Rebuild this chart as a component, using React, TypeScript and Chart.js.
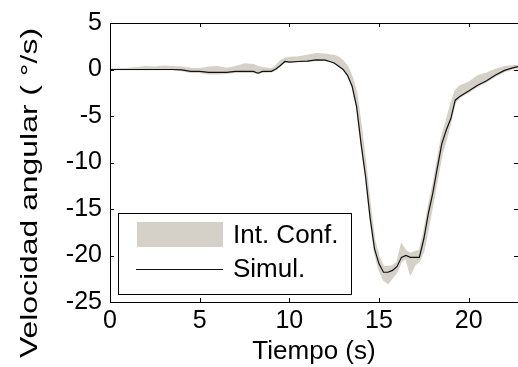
import React, { useEffect, useRef } from "react";
import { Chart, registerables } from "chart.js";

Chart.register(...registerables);

const time = [0, 0.5, 1, 1.5, 2, 2.5, 3, 3.5, 4, 4.5, 5, 5.5, 6, 6.5, 7, 7.5, 8, 8.25, 8.5, 9, 9.25, 9.5, 9.75, 10, 10.5, 11, 11.5, 12, 12.25, 12.5, 12.75, 13, 13.25, 13.5, 13.75, 14, 14.25, 14.5, 14.75, 15, 15.25, 15.5, 15.75, 16, 16.25, 16.5, 16.75, 17, 17.25, 17.5, 17.75, 18, 18.25, 18.5, 18.75, 19, 19.25, 19.5, 20, 20.5, 21, 21.5, 22, 22.5, 22.75];
const simul = [0, 0, 0, 0, 0, 0, 0, 0, -0.05, -0.2, -0.2, -0.3, -0.3, -0.3, -0.2, -0.2, -0.2, -0.4, -0.2, -0.2, 0.05, 0.43, 0.86, 0.8, 0.86, 0.9, 1.04, 1.0, 0.86, 0.7, 0.35, 0.0, -0.65, -1.8, -4.0, -8.0, -11.5, -15.9, -19.3, -20.9, -21.8, -21.8, -21.6, -21.2, -20.2, -20.0, -20.2, -20.2, -20.2, -18.2, -15.5, -13.3, -10.6, -8.0, -6.5, -5.3, -3.3, -2.9, -2.3, -1.7, -1.2, -0.6, -0.1, 0.2, 0.3];
const confUpper = [0, 0.05, 0.1, 0.2, 0.3, 0.25, 0.35, 0.3, 0.25, 0.1, 0.05, 0.25, 0.3, 0.1, 0.3, 0.6, 0.5, 0.3, 0.2, 0.05, 0.4, 0.9, 1.2, 1.3, 1.35, 1.5, 1.7, 1.65, 1.55, 1.5, 1.3, 0.9, 0.3, -0.8, -2.5, -6.0, -10.0, -14.5, -18.3, -20.2, -21.2, -21.2, -21.1, -20.8, -18.8, -19.5, -19.8, -19.6, -19.5, -17.5, -14.8, -12.5, -9.8, -7.2, -5.5, -3.8, -2.3, -1.8, -1.4, -0.7, -0.4, 0.0, 0.3, 0.4, 0.4];
const confLower = [0, 0, 0, 0, 0, 0, 0, 0, -0.1, -0.3, -0.3, -0.45, -0.45, -0.4, -0.3, -0.3, -0.3, -0.45, -0.3, -0.25, 0.0, 0.4, 0.8, 0.8, 0.85, 0.9, 1.0, 1.0, 0.85, 0.7, 0.4, 0.05, -0.6, -1.8, -4.0, -8.0, -11.5, -15.9, -19.6, -21.5, -22.6, -23.0, -22.4, -21.8, -20.6, -20.3, -22.0, -21.0, -20.6, -19.5, -17.0, -14.5, -11.8, -9.2, -7.5, -5.6, -3.5, -3.0, -2.4, -1.8, -1.3, -0.7, -0.2, 0.1, 0.2];

const xTicks = [0, 5, 10, 15, 20];
const yTicks = [-25, -20, -15, -10, -5, 0, 5];
const xMin = 0;
const xMax = 22.75;
const yMin = -25;
const yMax = 5;
const xTitle = "Tiempo (s)";
const yTitle = "Velocidad angular ( \u00B0/s)";
const legendLabels = ["Int. Conf.", "Simul."];

const BAND = "#d5d1c9";
const LINE = "#111111";
const FONT = "'Liberation Sans', Arial, sans-serif";

const framePlugin = {
  id: "frame",
  afterDraw(chart: any) {
    const { ctx, chartArea: a, scales } = chart;
    const xs = scales.x;
    const ys = scales.y;
    ctx.save();
    ctx.strokeStyle = "#000";
    ctx.lineWidth = 1;
    ctx.beginPath();
    ctx.moveTo(a.left + 0.5, a.top + 0.5);
    ctx.lineTo(a.right + 0.5, a.top + 0.5);
    ctx.lineTo(a.right + 0.5, a.bottom + 0.5);
    ctx.lineTo(a.left + 0.5, a.bottom + 0.5);
    ctx.closePath();
    ctx.stroke();
    const tl = 4;
    ctx.beginPath();
    xs.ticks.forEach((t: any) => {
      const px = Math.round(xs.getPixelForValue(t.value)) + 0.5;
      ctx.moveTo(px, a.bottom);
      ctx.lineTo(px, a.bottom - tl);
      ctx.moveTo(px, a.top);
      ctx.lineTo(px, a.top + tl);
    });
    ys.ticks.forEach((t: any) => {
      const py = Math.round(ys.getPixelForValue(t.value)) + 0.5;
      ctx.moveTo(a.left, py);
      ctx.lineTo(a.left + tl, py);
      ctx.moveTo(a.right, py);
      ctx.lineTo(a.right - tl, py);
    });
    ctx.stroke();

    // legend
    const lx = a.left + 8;
    const ly = a.top + 190;
    const lw = 233;
    const lh = 81;
    ctx.fillStyle = "#fff";
    ctx.fillRect(lx, ly, lw, lh);
    ctx.strokeStyle = "#000";
    ctx.strokeRect(lx + 0.5, ly + 0.5, lw, lh);
    ctx.fillStyle = BAND;
    ctx.fillRect(lx + 19, ly + 9, 86, 25);
    ctx.strokeStyle = LINE;
    ctx.lineWidth = 1.2;
    ctx.beginPath();
    ctx.moveTo(lx + 18, ly + 56.5);
    ctx.lineTo(lx + 105, ly + 56.5);
    ctx.stroke();
    ctx.fillStyle = "#000";
    ctx.font = `26px ${FONT}`;
    ctx.textAlign = "left";
    ctx.textBaseline = "middle";
    ctx.fillText(legendLabels[0], lx + 115, ly + 23);
    ctx.fillText(legendLabels[1], lx + 115, ly + 57);

    // y title
    ctx.save();
    ctx.translate(30, 193);
    ctx.rotate(-Math.PI / 2);
    ctx.font = `24px ${FONT}`;
    const w = ctx.measureText(yTitle).width;
    ctx.scale(330 / w, 1);
    ctx.textAlign = "center";
    ctx.textBaseline = "middle";
    ctx.fillText(yTitle, 0, 0);
    ctx.restore();

    ctx.restore();
  },
};

export default function App() {
  const ref = useRef<HTMLCanvasElement>(null);
  useEffect(() => {
    if (!ref.current) return;
    const pts = (ys: number[]) => time.map((t, i) => ({ x: t, y: ys[i] }));
    const chart = new Chart(ref.current, {
      type: "line",
      data: {
        datasets: [
          {
            label: "lower",
            data: pts(confLower),
            borderColor: BAND,
            borderWidth: 1.5,
            pointRadius: 0,
            fill: false,
            order: 2,
          },
          {
            label: legendLabels[0],
            data: pts(confUpper),
            borderColor: BAND,
            backgroundColor: BAND,
            borderWidth: 1.5,
            pointRadius: 0,
            fill: "-1",
            order: 1,
          },
          {
            label: legendLabels[1],
            data: pts(simul),
            borderColor: LINE,
            borderWidth: 1.2,
            pointRadius: 0,
            fill: false,
            order: 0,
          },
        ],
      },
      options: {
        responsive: false,
        animation: false,
        devicePixelRatio: 1,
        layout: { padding: { top: 23, right: 0, left: 0, bottom: 0 } },
        plugins: { legend: { display: false }, tooltip: { enabled: false } },
        scales: {
          x: {
            type: "linear",
            min: xMin,
            max: xMax,
            grid: { display: false, drawTicks: false },
            border: { display: false },
            afterBuildTicks: (s: any) => {
              s.ticks = xTicks.map((v) => ({ value: v }));
            },
            ticks: {
              autoSkip: false,
              color: "#000",
              font: { family: FONT, size: 25 },
              padding: 4,
              maxRotation: 0,
            },
            title: {
              display: true,
              text: xTitle,
              color: "#000",
              font: { family: FONT, size: 26 },
              padding: { top: 0, bottom: 0 },
            },
            afterFit: (s: any) => {
              s.height = 65;
            },
          },
          y: {
            type: "linear",
            min: yMin,
            max: yMax,
            grid: { display: false, drawTicks: false },
            border: { display: false },
            afterBuildTicks: (s: any) => {
              s.ticks = yTicks.map((v) => ({ value: v }));
            },
            ticks: {
              autoSkip: false,
              color: "#000",
              font: { family: FONT, size: 25 },
              padding: 8,
            },
            afterFit: (s: any) => {
              s.width = 110;
            },
          },
        },
      },
      plugins: [framePlugin],
    } as any);
    return () => chart.destroy();
  }, []);
  return (
    <div style={{ position: "fixed", left: 0, top: 0, width: 518, height: 367, background: "#fff" }}>
      <canvas ref={ref} width={518} height={367} />
    </div>
  );
}
